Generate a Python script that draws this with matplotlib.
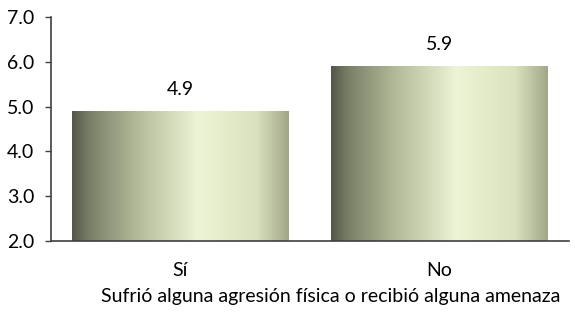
import numpy as np
import matplotlib
matplotlib.use('Agg')
import matplotlib.pyplot as plt
from matplotlib.colors import LinearSegmentedColormap

categories = ['Sí', 'No']
values = [4.9, 5.9]
y_ticks = [2.0, 3.0, 4.0, 5.0, 6.0, 7.0]
x_title = 'Sufrió alguna agresión física o recibió alguna amenaza'

plt.rcParams['font.family'] = ['Lato', 'DejaVu Sans']

# horizontal shading across each bar
shade = LinearSegmentedColormap.from_list('shade', [
    (0.00, '#53574a'),
    (0.08, '#7a8068'),
    (0.30, '#b2bb99'),
    (0.58, '#eef4d6'),
    (0.85, '#d9e3bd'),
    (1.00, '#a2a789'),
])

fig = plt.figure(figsize=(5.75, 3.14), dpi=100)
ax = fig.add_axes([0.0887, 0.2325, 0.9009, 0.7134])

x = np.arange(len(categories))
bars = ax.bar(x, values, width=0.836, bottom=0, color='none', edgecolor='none')
grad = np.linspace(0, 1, 256).reshape(1, -1)
for b, v in zip(bars, values):
    im = ax.imshow(grad, cmap=shade, aspect='auto',
                   extent=[b.get_x(), b.get_x() + b.get_width(), 2.0, v],
                   zorder=2)
    im.set_clip_path(b)
    ax.text(b.get_x() + b.get_width() / 2, v + 0.3, f'{v:.1f}',
            ha='center', va='bottom', fontsize=14)

ax.set_xlim(-0.5, 1.5)
ax.set_ylim(2.0, 7.0)
ax.set_yticks(y_ticks)
ax.set_yticklabels([f'{t:.1f}' for t in y_ticks], fontsize=14)
ax.set_xticks(x)
ax.set_xticklabels(categories, fontsize=14)
ax.tick_params(axis='x', length=0, pad=15)
ax.tick_params(axis='y', length=4, width=1, color='#404040', pad=8)
ax.set_xlabel(x_title, fontsize=14, va='center')
ax.xaxis.set_label_coords(0.539, -0.25)

for s in ['top', 'right']:
    ax.spines[s].set_visible(False)
for s in ['left', 'bottom']:
    ax.spines[s].set_color('#404040')
    ax.spines[s].set_linewidth(1.2)

fig.savefig('out.png', dpi=100)
